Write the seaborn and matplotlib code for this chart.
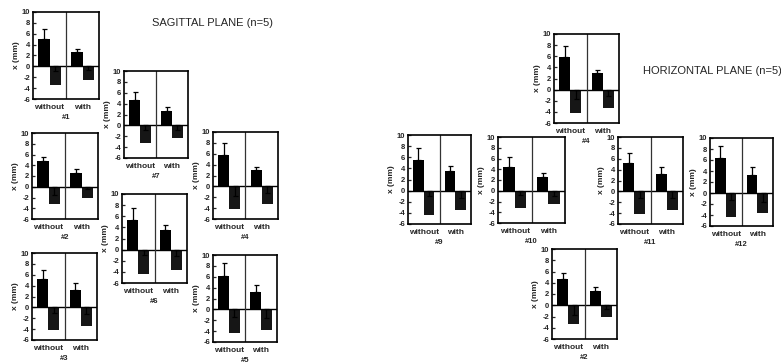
import pandas as pd
import seaborn as sns
import matplotlib
matplotlib.use('Agg')
import matplotlib.pyplot as plt

sns.set_style('ticks')
plt.rcParams['font.family'] = ['Liberation Sans', 'DejaVu Sans']
plt.rcParams['axes.unicode_minus'] = False

conditions = ['without', 'with']
directions = ['pos', 'neg']

# panels: 7 sagittal then 6 horizontal
panel_labels = ['#1', '#7', '#2', '#4', '#6', '#3', '#5',
                '#4', '#9', '#10', '#11', '#12', '#2']

# mean displacement x (mm)
pos_without = [5.0, 4.6, 4.8, 5.8, 5.4, 5.2, 6.2, 5.8, 5.5, 4.5, 5.3, 6.3, 4.7]
neg_without = [-3.4, -3.2, -3.3, -4.1, -4.4, -4.1, -4.4, -4.2, -4.4, -3.3, -4.2, -4.3, -3.3]
pos_with = [2.6, 2.6, 2.6, 3.0, 3.6, 3.2, 3.2, 2.9, 3.6, 2.5, 3.2, 3.3, 2.6]
neg_with = [-2.5, -2.4, -2.0, -3.2, -3.6, -3.4, -3.8, -3.3, -3.5, -2.4, -3.4, -3.7, -2.0]

# one-sided error bars (mm)
pos_without_err = [1.9, 1.6, 0.8, 2.1, 2.1, 1.6, 2.4, 2.1, 2.1, 1.7, 1.7, 2.3, 1.0]
neg_without_err = [0.8, 0.9, 1.5, 1.7, 1.0, 1.1, 1.4, 1.7, 1.0, 0.8, 1.3, 1.3, 1.8]
pos_with_err = [0.6, 0.7, 0.7, 0.6, 0.9, 1.3, 1.2, 0.6, 0.9, 0.8, 1.2, 1.4, 0.7]
neg_with_err = [0.7, 0.9, 0.5, 1.2, 1.1, 1.2, 1.6, 1.2, 1.3, 1.0, 1.3, 1.6, 0.6]

# axes boxes in pixels: left, top, right, bottom
panel_boxes = [(33, 12, 99, 99), (124, 71, 188, 158), (32, 133, 98, 219),
               (213, 132, 278, 219), (122, 194, 187, 283), (32, 253, 97, 340),
               (213, 255, 277, 342),
               (554, 34, 619, 123), (408, 135, 471, 224), (498, 137, 565, 223),
               (618, 137, 683, 224), (710, 138, 773, 226), (552, 249, 617, 339)]

W, H = 781, 364
fig = plt.figure(figsize=(W / 100, H / 100), dpi=100)


def draw_panel(i):
    l, t, r, b = panel_boxes[i]
    ax = fig.add_axes([l / W, 1 - b / H, (r - l) / W, (b - t) / H])
    df = pd.DataFrame({
        'condition': ['without', 'without', 'with', 'with'],
        'direction': ['pos', 'neg', 'pos', 'neg'],
        'value': [pos_without[i], neg_without[i], pos_with[i], neg_with[i]],
    })
    sns.barplot(data=df, x='condition', y='value', hue='direction',
                order=conditions, hue_order=directions,
                palette=['#000000', '#161616'], width=0.68,
                errorbar=None, legend=False, ax=ax, linewidth=0)
    errs = {'pos': [pos_without_err[i], pos_with_err[i]],
            'neg': [neg_without_err[i], neg_with_err[i]]}
    for cont, d in zip(ax.containers, directions):
        for bar, e in zip(cont, errs[d]):
            xc = bar.get_x() + bar.get_width() / 2
            y = bar.get_y() + bar.get_height() if d == 'pos' else bar.get_y()
            yerr = [[0], [e]] if d == 'pos' else [[e], [0]]
            ax.errorbar([xc], [y], yerr=yerr, color='black', lw=0.9,
                        capsize=1.8, capthick=0.9)
    ax.axhline(0, color='black', lw=1.0)
    ax.axvline(0.5, color='#333333', lw=0.9)
    ax.set_xlim(-0.5, 1.5)
    ax.set_ylim(-6, 10)
    ax.set_yticks(range(-6, 11, 2))
    ax.tick_params(axis='y', direction='in', length=2.5, width=0.9,
                   labelsize=5.5, pad=2)
    ax.tick_params(axis='x', length=0, labelsize=6, pad=3.5)
    for lab in ax.get_xticklabels() + ax.get_yticklabels():
        lab.set_fontweight('bold')
    ax.set_ylabel('x (mm)', fontsize=6, fontweight='bold', labelpad=1)
    ax.set_xlabel(panel_labels[i], fontsize=5.5, fontweight='bold', labelpad=2)
    for s in ax.spines.values():
        s.set_visible(True)
        s.set_linewidth(1.2)
        s.set_color('black')


for i in range(len(panel_labels)):
    draw_panel(i)

fig.text(213 / W, 1 - 23 / H, 'SAGITTAL PLANE (n=5)', fontsize=8,
         ha='center', va='center')
fig.text(643 / W, 1 - 71 / H, 'HORIZONTAL PLANE (n=5)', fontsize=8,
         ha='left', va='center')

fig.savefig('out.png', dpi=100)
